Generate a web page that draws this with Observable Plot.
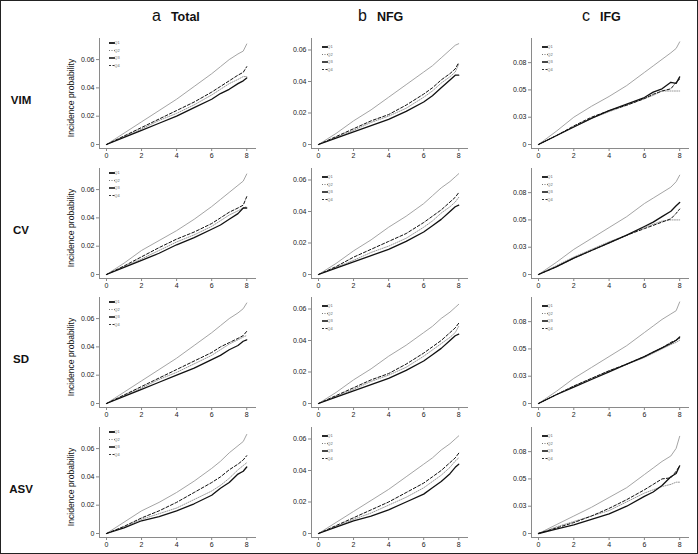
<!DOCTYPE html>
<html><head><meta charset="utf-8">
<script src="https://cdn.jsdelivr.net/npm/d3@7"></script>
<script src="https://cdn.jsdelivr.net/npm/@observablehq/plot@0.6"></script>
<style>
body{margin:0;background:#fff;font-family:"Liberation Sans",Arial,sans-serif;}
#fig{position:relative;width:698px;height:554px;overflow:hidden;background:#fff}
#border{position:absolute;left:0;top:0;width:698px;height:554px;box-sizing:border-box;border:1.5px solid #222;pointer-events:none}
.rowlab{position:absolute;font-weight:bold;font-size:11.5px;transform:translate(-50%,-50%);white-space:nowrap;color:#111}
.coltitle{position:absolute;transform:translate(0,-50%);white-space:nowrap;color:#111}
.coltitle .let{font-family:"Liberation Sans Narrow","Liberation Sans",Arial,sans-serif;font-size:16px;font-weight:normal;margin-right:10px}
.coltitle .nm{font-size:12.5px;font-weight:bold}
.panel{position:absolute}
</style></head><body><div id="fig"><div id="border"></div></div><script>
// ---- data ----
const T = [0, 1, 2, 3, 4, 5, 6, 6.5, 7, 7.5, 7.8, 8];            // years
const quartiles = ["Q1", "Q2", "Q3", "Q4"];
const rowNames = ["VIM", "CV", "SD", "ASV"];
const colLetters = ["a", "b", "c"];
const colNames = ["Total", "NFG", "IFG"];
const xTicks = [0, 2, 4, 6, 8];
const yTicksTotal = [0, 0.02, 0.04, 0.06];
const yLabelsTotal = ["0", "0.02", "0.04", "0.06"];
const yTicksNFG = [0, 0.02, 0.04, 0.06];
const yLabelsNFG = ["0", "0.02", "0.04", "0.06"];
const yTicksIFG = [0, 0.025, 0.05, 0.075];
const yLabelsIFG = ["0", "0.03", "0.05", "0.08"];
const yTitle = "Incidence probability";

// each panel: [Q1, Q2, Q3, Q4]
const vimTotal = [
  [0, .005, .010, .015, .020, .026, .032, .036, .039, .043, .045, .047],
  [0, .0055, .011, .017, .022, .028, .035, .039, .043, .046, .048, .048],
  [0, .008, .016, .024, .032, .041, .050, .055, .060, .064, .066, .071],
  [0, .006, .012, .018, .024, .030, .037, .041, .045, .049, .051, .055]];
const vimNFG = [
  [0, .004, .008, .012, .016, .021, .027, .031, .036, .041, .044, .044],
  [0, .0045, .009, .014, .018, .023, .030, .034, .039, .043, .046, .051],
  [0, .007, .015, .022, .030, .038, .046, .050, .055, .060, .063, .064],
  [0, .005, .010, .015, .019, .025, .032, .036, .041, .045, .048, .052]];
const vimIFG = [
  [0, .008, .016, .024, .031, .037, .043, .048, .051, .057, .056, .062],
  [0, .008, .016, .024, .030, .036, .042, .045, .049, .049, .049, .049],
  [0, .012, .025, .035, .044, .054, .066, .072, .078, .084, .088, .094],
  [0, .008, .017, .025, .031, .036, .042, .046, .049, .051, .057, .060]];
const cvTotal = [
  [0, .005, .010, .015, .021, .026, .032, .035, .039, .043, .047, .047],
  [0, .0055, .011, .017, .023, .028, .034, .038, .042, .045, .047, .048],
  [0, .008, .017, .024, .031, .039, .048, .053, .058, .063, .066, .071],
  [0, .006, .0125, .019, .025, .030, .036, .040, .044, .047, .049, .055]];
const cvNFG = [
  [0, .004, .008, .012, .016, .021, .027, .031, .035, .040, .043, .044],
  [0, .0045, .009, .014, .018, .023, .030, .034, .039, .043, .046, .049],
  [0, .007, .015, .022, .030, .037, .045, .050, .055, .059, .062, .064],
  [0, .005, .011, .016, .021, .026, .033, .037, .041, .046, .049, .052]];
const cvIFG = [
  [0, .007, .015, .022, .029, .036, .044, .048, .053, .058, .063, .066],
  [0, .008, .016, .023, .030, .036, .043, .046, .049, .050, .050, .050],
  [0, .011, .023, .033, .043, .053, .065, .070, .075, .080, .085, .091],
  [0, .007, .015, .022, .029, .036, .042, .045, .048, .051, .056, .060]];
const sdTotal = [
  [0, .005, .010, .015, .020, .025, .031, .034, .038, .041, .044, .045],
  [0, .0055, .011, .017, .022, .028, .034, .038, .042, .045, .047, .048],
  [0, .008, .016, .024, .032, .041, .050, .055, .060, .064, .067, .071],
  [0, .006, .012, .018, .024, .030, .036, .040, .043, .046, .048, .051]];
const sdNFG = [
  [0, .004, .008, .012, .016, .021, .027, .031, .035, .040, .043, .044],
  [0, .0045, .009, .014, .018, .023, .030, .034, .038, .042, .045, .049],
  [0, .007, .015, .022, .030, .037, .045, .049, .054, .058, .061, .063],
  [0, .005, .010, .015, .019, .025, .032, .036, .040, .045, .048, .051]];
const sdIFG = [
  [0, .008, .015, .022, .029, .036, .043, .047, .051, .055, .058, .061],
  [0, .008, .016, .023, .030, .036, .042, .046, .050, .054, .056, .058],
  [0, .011, .023, .033, .043, .053, .065, .071, .077, .082, .085, .093],
  [0, .008, .016, .023, .030, .036, .043, .047, .051, .056, .058, .060]];
const asvTotal = [
  [0, .004, .009, .012, .016, .021, .027, .032, .036, .042, .044, .047],
  [0, .0045, .010, .014, .018, .024, .030, .034, .039, .045, .048, .050],
  [0, .008, .016, .022, .029, .037, .046, .051, .057, .062, .065, .070],
  [0, .005, .011, .016, .022, .029, .036, .040, .045, .049, .052, .055]];
const asvNFG = [
  [0, .004, .008, .011, .015, .020, .025, .029, .033, .038, .042, .044],
  [0, .0045, .009, .013, .018, .023, .029, .033, .037, .042, .046, .048],
  [0, .007, .014, .021, .028, .036, .044, .048, .053, .057, .060, .062],
  [0, .005, .010, .015, .020, .026, .032, .036, .040, .045, .048, .051]];
const asvIFG = [
  [0, .004, .008, .013, .018, .025, .034, .038, .044, .052, .055, .062],
  [0, .006, .011, .016, .021, .029, .037, .040, .043, .045, .047, .047],
  [0, .008, .016, .024, .033, .042, .054, .060, .066, .071, .078, .089],
  [0, .005, .010, .016, .023, .031, .040, .045, .050, .051, .057, .062]];

const grid = [
  [vimTotal, vimNFG, vimIFG],
  [cvTotal, cvNFG, cvIFG],
  [sdTotal, sdNFG, sdIFG],
  [asvTotal, asvNFG, asvIFG]];

// ---- layout ----
const colLefts = [99, 311, 531], colWidths = [156, 156, 157];
const rowTops = [38, 168, 297, 427];
const frameH = 110;
const yTops = [0.0749, 0.0673, 0.0971];
const yTicksByCol = [yTicksTotal, yTicksNFG, yTicksIFG];
const yLabelsByCol = [yLabelsTotal, yLabelsNFG, yLabelsIFG];
const legendTop = [5, 9, 9];
const legendLeft = [10, 11, 11];

const styles = {
  Q1: {stroke: "#111", strokeWidth: 1.3},
  Q2: {stroke: "#8c8c8c", strokeWidth: 0.9, strokeDasharray: "1,1.3"},
  Q3: {stroke: "#9a9a9a", strokeWidth: 0.9},
  Q4: {stroke: "#111", strokeWidth: 1, strokeDasharray: "3,2"}
};
const legendStyles = {
  Q1: {stroke: "#111", "stroke-width": 1.8},
  Q2: {stroke: "#777", "stroke-width": 1, "stroke-dasharray": "1,1.5"},
  Q3: {stroke: "#333", "stroke-width": 1.8},
  Q4: {stroke: "#333", "stroke-width": 1, "stroke-dasharray": "2,1.5"}
};
const drawOrder = ["Q3", "Q2", "Q4", "Q1"];

const fig = document.getElementById("fig");
const mL = 40, mR = 6, mT = 4, mB = 18;

grid.forEach((row, ri) => {
  row.forEach((series, ci) => {
    const data = [];
    series.forEach((vals, qi) => vals.forEach((v, j) => data.push({t: T[j], v, q: quartiles[qi]})));
    const labMap = new Map(yTicksByCol[ci].map((t, i) => [t, yLabelsByCol[ci][i]]));
    const marks = [
      Plot.frame({anchor: "left", stroke: "#8a8a8a"}),
      Plot.frame({anchor: "bottom", stroke: "#8a8a8a"}),
      Plot.axisX({ticks: xTicks, tickSize: 3, tickPadding: 1.5, fontSize: 7, stroke: "#888", fill: "#222", label: null, tickFormat: d => String(d)}),
      Plot.axisY({ticks: yTicksByCol[ci], tickSize: 3, tickPadding: 2, fontSize: 7, stroke: "#888", fill: "#222", label: null, tickFormat: d => labMap.get(d)}),
      ...drawOrder.map(q => Plot.line(data.filter(d => d.q === q), {x: "t", y: "v", ...styles[q]}))
    ];
    const svg = Plot.plot({
      width: mL + colWidths[ci] + mR,
      height: mT + frameH + mB,
      marginLeft: mL, marginRight: mR, marginTop: mT, marginBottom: mB,
      x: {domain: [0, 8.5], insetLeft: 7},
      y: {domain: [0, yTops[ci]], insetBottom: 4},
      style: {fontFamily: "Liberation Sans, Arial, sans-serif", background: "transparent", overflow: "visible"},
      marks
    });
    // legend
    const g = d3.select(svg).append("g")
      .attr("transform", `translate(${mL + legendLeft[ci]},${mT + legendTop[ci]})`);
    quartiles.forEach((q, i) => {
      const ln = g.append("line").attr("x1", 0).attr("x2", 6).attr("y1", i * 7.5).attr("y2", i * 7.5);
      Object.entries(legendStyles[q]).forEach(([k, v]) => ln.attr(k, v));
      g.append("text").attr("x", 8).attr("y", i * 7.5).attr("dy", "0.35em")
        .attr("font-size", 4).attr("fill", "#666").text(q);
    });
    if (ci === 0) {
      d3.select(svg).append("text")
        .attr("transform", `translate(${70.5 - (colLefts[0] - mL)},${mT + 60}) rotate(-90)`)
        .attr("text-anchor", "middle").attr("dy", "0.35em")
        .attr("font-size", 8.6).attr("fill", "#111").text(yTitle);
    }
    const div = document.createElement("div");
    div.className = "panel";
    div.style.left = (colLefts[ci] - mL) + "px";
    div.style.top = (rowTops[ri] - mT) + "px";
    div.appendChild(svg);
    fig.appendChild(div);
  });
  const rl = document.createElement("div");
  rl.className = "rowlab";
  rl.style.left = "21px";
  rl.style.top = (rowTops[ri] + 62) + "px";
  rl.textContent = rowNames[ri];
  fig.appendChild(rl);
});

const titleLeft = [152, 358, 582];
colNames.forEach((n, ci) => {
  const d = document.createElement("div");
  d.className = "coltitle";
  d.style.left = titleLeft[ci] + "px";
  d.style.top = "16px";
  d.innerHTML = `<span class="let">${colLetters[ci]}</span><span class="nm">${n}</span>`;
  fig.appendChild(d);
});
</script></body></html>
